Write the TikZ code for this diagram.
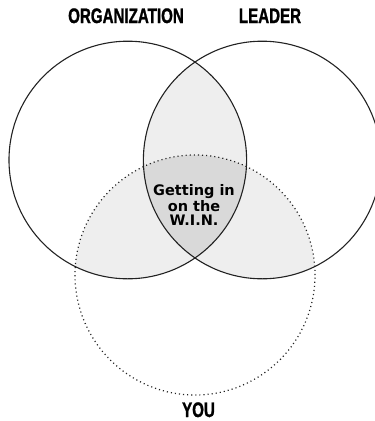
\documentclass[tikz,border=0pt]{standalone}
\usepackage{fontspec}
\newfontfamily\headfont{Liberation Sans Bold}[FakeStretch=0.72,FakeBold=1.2]
\newfontfamily\winfont{DejaVu Sans Bold}
\definecolor{lightfill}{HTML}{EEEEEE}
\definecolor{darkfill}{HTML}{D9D9D9}
\definecolor{edge}{HTML}{222222}
\tikzset{
  head/.style={font=\headfont\fontsize{21}{21}\selectfont, text=black, inner sep=0pt, anchor=base},
  wintext/.style={font=\winfont\fontsize{14.5}{14}\selectfont, text=black, align=center, inner sep=0pt},
  solidring/.style={draw=edge, line width=1.1pt},
  dotring/.style={draw=edge, line width=1.2pt, dash pattern=on 1.1pt off 3pt},
}
\begin{document}
\begin{tikzpicture}[x=1pt,y=-1pt]
\useasboundingbox (0,0) rectangle (375,421);
\coordinate (org) at (127.8,160);
\coordinate (lead) at (262.2,160);
\coordinate (you) at (195,275);
% pairwise intersections
\begin{scope}
  \clip (org) circle (118.8pt);
  \fill[lightfill] (lead) circle (118.8pt);
  \fill[lightfill] (you) circle (120pt);
\end{scope}
\begin{scope}
  \clip (lead) circle (118.8pt);
  \fill[lightfill] (you) circle (120pt);
\end{scope}
% triple intersection
\begin{scope}
  \clip (org) circle (118.8pt);
  \clip (lead) circle (118.8pt);
  \fill[darkfill] (you) circle (120pt);
\end{scope}
% rings
\draw[dotring] (you) circle (120pt);
\draw[solidring] (org) circle (118.8pt);
\draw[solidring] (lead) circle (118.8pt);
% labels
\node[head] (orglabel) at (126,23) {ORGANIZATION};
\node[head] (leadlabel) at (270,23) {LEADER};
\node[head] (youlabel) at (198.5,417) {YOU};
\node[wintext] (win) at (194,205) {Getting in\\on the\\W.I.N.};
\end{tikzpicture}
\end{document}
